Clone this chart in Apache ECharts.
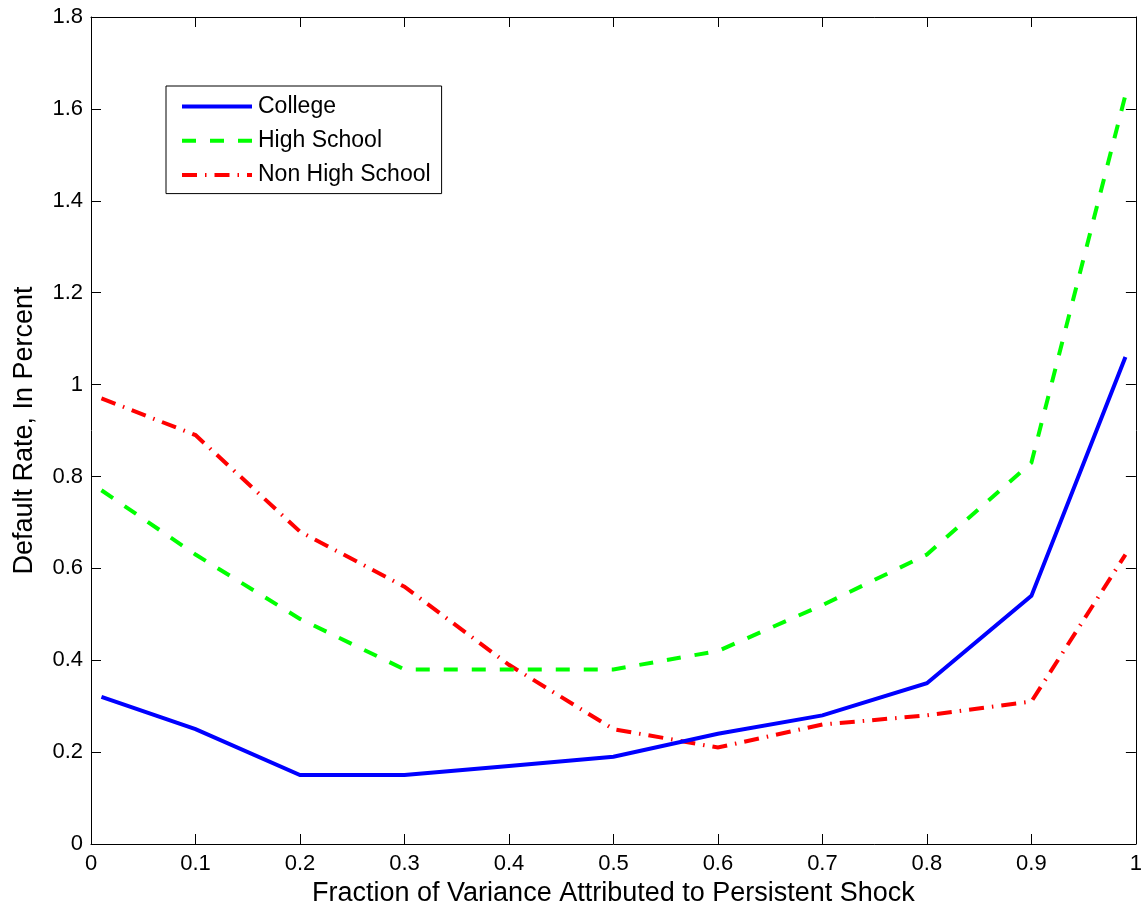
<!DOCTYPE html>
<html>
<head>
<meta charset="utf-8">
<script src="https://cdn.jsdelivr.net/npm/echarts@6/dist/echarts.min.js"></script>
<style>
  html, body { margin: 0; padding: 0; background: #fff; }
  #chart { width: 1145px; height: 913px; }
</style>
</head>
<body>
<div id="chart"></div>
<script>
// ---- data ----
const xValues = [0.01, 0.1, 0.2, 0.3, 0.4, 0.5, 0.6, 0.7, 0.8, 0.9, 0.99];
const college = [0.32, 0.25, 0.15, 0.15, 0.17, 0.19, 0.24, 0.28, 0.35, 0.54, 1.06];
const highSchool = [0.77, 0.63, 0.49, 0.38, 0.38, 0.38, 0.42, 0.52, 0.63, 0.83, 1.63];
const nonHighSchool = [0.97, 0.89, 0.68, 0.56, 0.39, 0.25, 0.21, 0.26, 0.28, 0.31, 0.63];
const seriesNames = ['College', 'High School', 'Non High School'];
const xTitle = 'Fraction of Variance Attributed to Persistent Shock';
const yTitle = 'Default Rate, In Percent';

const FONT = '"Liberation Sans", Arial, sans-serif';
const pairs = (ys) => xValues.map((x, i) => [x, ys[i]]);

const styles = [
  { color: '#0000ff', type: 'solid' },
  { color: '#00ff00', type: [14, 14] },
  { color: '#ff0000', type: [15, 8, 1.5, 8] }
];
const seriesData = [college, highSchool, nonHighSchool];

const chart = echarts.init(document.getElementById('chart'), null, { renderer: 'canvas' });

const tickCommon = { show: true, inside: true, length: 10, lineStyle: { color: '#000', width: 1 } };

chart.setOption({
  animation: false,
  backgroundColor: '#fff',
  grid: { left: 91, right: 7, top: 17, bottom: 69, show: false, containLabel: false },
  legend: {
    orient: 'vertical',
    left: 166,
    top: 86,
    padding: [9, 11, 7, 14],
    itemWidth: 70,
    itemHeight: 22,
    itemGap: 11.3,
    borderColor: '#000',
    borderWidth: 1,
    backgroundColor: '#fff',
    borderRadius: 0,
    textStyle: { fontFamily: FONT, fontSize: 23, color: '#000', padding: [0, 0, 0, 1] },
    data: seriesNames.map((n, i) => ({
      name: n,
      itemStyle: { opacity: 0 },
      lineStyle: { color: styles[i].color, width: 4, type: styles[i].type, cap: 'butt', opacity: 1 }
    }))
  },
  xAxis: [
    {
      type: 'value', min: 0, max: 1, interval: 0.1, position: 'bottom',
      name: xTitle, nameLocation: 'middle', nameGap: 34,
      nameTextStyle: { fontFamily: FONT, fontSize: 27, color: '#000' },
      axisLine: { show: true, onZero: false, lineStyle: { color: '#000', width: 1 } },
      axisTick: tickCommon,
      axisLabel: { fontFamily: FONT, fontSize: 22, color: '#000', margin: 9 },
      splitLine: { show: false }
    },
    {
      type: 'value', min: 0, max: 1, interval: 0.1, position: 'top',
      axisLine: { show: true, onZero: false, lineStyle: { color: '#000', width: 1 } },
      axisTick: tickCommon,
      axisLabel: { show: false },
      splitLine: { show: false }
    }
  ],
  yAxis: [
    {
      type: 'value', min: 0, max: 1.8, interval: 0.2, position: 'left',
      name: yTitle, nameLocation: 'middle', nameGap: 53, nameRotate: 90,
      nameTextStyle: { fontFamily: FONT, fontSize: 27, color: '#000' },
      axisLine: { show: true, onZero: false, lineStyle: { color: '#000', width: 1 } },
      axisTick: tickCommon,
      axisLabel: { fontFamily: FONT, fontSize: 22, color: '#000', margin: 8 },
      splitLine: { show: false }
    },
    {
      type: 'value', min: 0, max: 1.8, interval: 0.2, position: 'right',
      axisLine: { show: true, onZero: false, lineStyle: { color: '#000', width: 1 } },
      axisTick: tickCommon,
      axisLabel: { show: false },
      splitLine: { show: false }
    }
  ],
  series: seriesNames.map((n, i) => ({
    name: n,
    type: 'line',
    xAxisIndex: 0,
    yAxisIndex: 0,
    data: pairs(seriesData[i]),
    symbol: 'none',
    showSymbol: false,
    z: 3 - i,
    lineStyle: { color: styles[i].color, width: 4, type: styles[i].type, cap: 'butt', join: 'miter' },
    itemStyle: { color: styles[i].color }
  }))
});
</script>
</body>
</html>
